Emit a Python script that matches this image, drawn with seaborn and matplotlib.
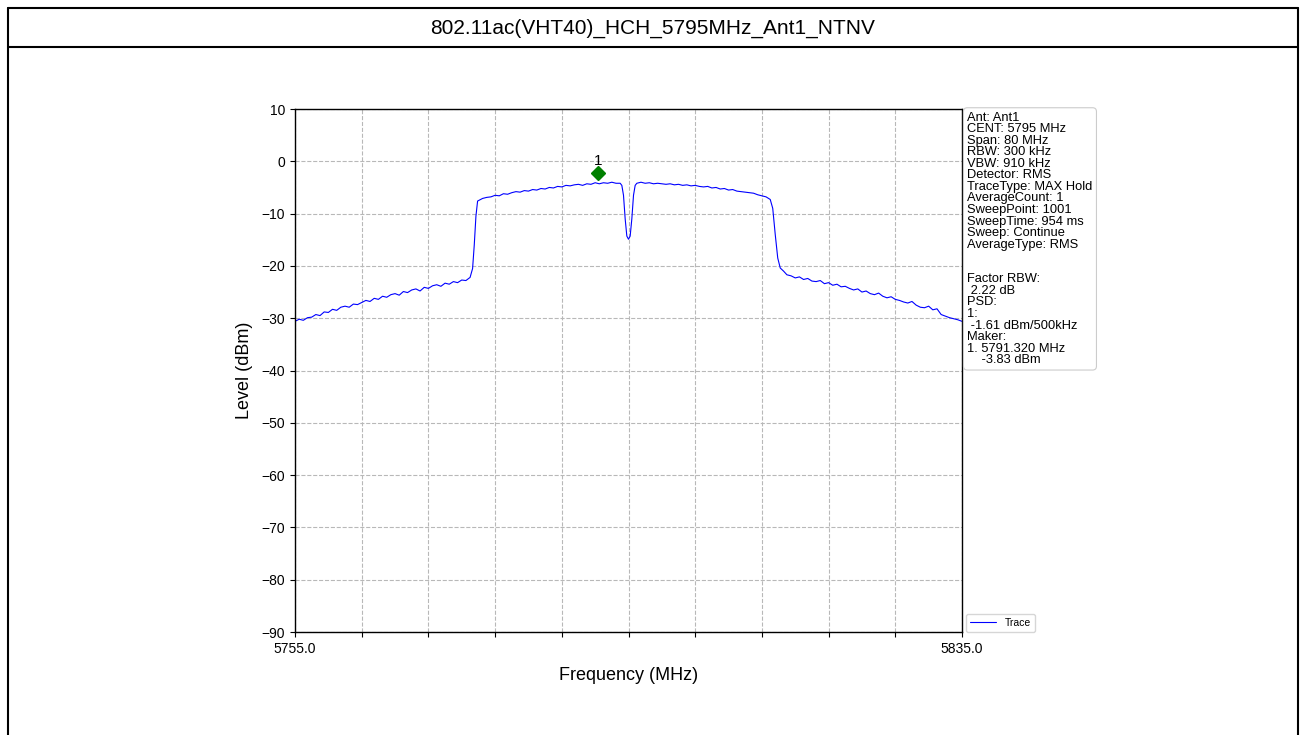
import matplotlib
matplotlib.use("Agg")
import matplotlib.pyplot as plt
import numpy as np
import pandas as pd
import seaborn as sns
from matplotlib.lines import Line2D

# trace values (MHz, dBm)
freq_left = [5755.0, 5755.5, 5756.0, 5756.5, 5757.0, 5757.5, 5758.0, 5758.5, 5759.0, 5759.5,
             5760.0, 5760.5, 5761.0, 5761.5, 5762.0, 5762.5, 5763.0, 5763.5, 5764.0, 5764.5,
             5765.0, 5765.5, 5766.0, 5766.5, 5767.0, 5767.5, 5768.0, 5768.5, 5769.0, 5769.5,
             5770.0, 5770.5, 5771.0, 5771.5, 5772.0, 5772.5, 5773.0, 5773.5, 5774.0, 5774.5,
             5775.0, 5775.5, 5776.0, 5776.3, 5776.5, 5776.7, 5776.9]
level_left = [-30.6, -30.2, -30.4, -29.9, -29.8, -29.3, -29.5, -28.8, -28.9, -28.3,
              -28.5, -27.9, -27.7, -27.9, -27.3, -27.4, -27.0, -26.6, -26.8, -26.2,
              -26.4, -25.8, -26.0, -25.5, -25.3, -25.6, -24.9, -25.1, -24.6, -24.4,
              -24.8, -24.1, -24.3, -23.8, -23.6, -23.9, -23.3, -23.5, -23.0, -23.2,
              -22.7, -22.8, -22.2, -20.5, -16.0, -10.5, -7.6]

freq_band = [5777.5, 5778.0, 5778.5, 5779.0, 5779.5, 5780.0, 5780.5, 5781.0, 5781.5, 5782.0,
             5782.5, 5783.0, 5783.5, 5784.0, 5784.5, 5785.0, 5785.5, 5786.0, 5786.5, 5787.0,
             5787.5, 5788.0, 5788.5, 5789.0, 5789.5, 5790.0, 5790.5, 5791.0, 5791.5, 5792.0,
             5792.5, 5793.0, 5793.5, 5794.0, 5794.2, 5794.4, 5794.6, 5794.8, 5795.0, 5795.2,
             5795.4, 5795.6, 5795.8, 5796.0, 5796.5, 5797.0, 5797.5, 5798.0, 5798.5, 5799.0,
             5799.5, 5800.0, 5800.5, 5801.0, 5801.5, 5802.0, 5802.5, 5803.0, 5803.5, 5804.0,
             5804.5, 5805.0, 5805.5, 5806.0, 5806.5, 5807.0, 5807.5, 5808.0, 5808.5, 5809.0,
             5809.5, 5810.0, 5810.5, 5811.0, 5811.5, 5812.0]
level_band = [-7.1, -6.9, -6.8, -6.5, -6.6, -6.2, -6.3, -6.0, -5.8, -5.9,
              -5.6, -5.7, -5.4, -5.5, -5.2, -5.3, -5.0, -5.1, -4.8, -4.9,
              -4.6, -4.7, -4.5, -4.4, -4.6, -4.3, -4.4, -4.1, -4.3, -4.1,
              -4.2, -4.0, -4.2, -4.2, -4.6, -6.5, -11.0, -14.3, -14.9, -14.3,
              -11.0, -6.5, -4.6, -4.2, -4.0, -4.2, -4.1, -4.3, -4.2, -4.3,
              -4.4, -4.3, -4.5, -4.4, -4.6, -4.5, -4.7, -4.6, -4.8, -4.9,
              -4.8, -5.1, -5.0, -5.3, -5.2, -5.5, -5.4, -5.7, -5.8, -5.9,
              -6.0, -6.1, -6.4, -6.6, -6.8, -7.3]

freq_right = [5812.3, 5812.6, 5812.9, 5813.2, 5813.6, 5814.0, 5814.5, 5815.0, 5815.5, 5816.0,
              5816.5, 5817.0, 5817.5, 5818.0, 5818.5, 5819.0, 5819.5, 5820.0, 5820.5, 5821.0,
              5821.5, 5822.0, 5822.5, 5823.0, 5823.5, 5824.0, 5824.5, 5825.0, 5825.5, 5826.0,
              5826.5, 5827.0, 5827.5, 5828.0, 5828.5, 5829.0, 5829.5, 5830.0, 5830.5, 5831.0,
              5831.5, 5832.0, 5832.5, 5833.0, 5833.5, 5834.0, 5834.5, 5835.0]
level_right = [-9.0, -14.0, -18.5, -20.4, -21.0, -21.7, -21.9, -22.3, -22.1, -22.6,
               -22.4, -22.9, -23.0, -22.8, -23.4, -23.2, -23.7, -23.5, -24.0, -23.9,
               -24.3, -24.6, -24.4, -25.0, -24.8, -25.3, -25.5, -25.2, -25.8, -26.1,
               -25.9, -26.4, -26.6, -26.9, -27.1, -26.8, -27.5, -27.9, -28.0, -27.7,
               -28.4, -28.2, -29.3, -29.6, -29.9, -30.1, -30.3, -30.6]

marker_freq = 5791.32
marker_level = -2.3

info_lines = ["Ant: Ant1", "CENT: 5795 MHz", "Span: 80 MHz", "RBW: 300 kHz", "VBW: 910 kHz",
              "Detector: RMS", "TraceType: MAX Hold", "AverageCount: 1", "SweepPoint: 1001",
              "SweepTime: 954 ms", "Sweep: Continue", "AverageType: RMS", "", "",
              "Factor RBW:", " 2.22 dB", "PSD:", "1:", " -1.61 dBm/500kHz", "Maker:",
              "1. 5791.320 MHz", "    -3.83 dBm"]

df = pd.DataFrame({"freq": freq_left + freq_band + freq_right,
                   "level": level_left + level_band + level_right})

sns.set_style("ticks")
plt.rcParams["font.family"] = ["Liberation Sans", "DejaVu Sans"]
plt.rcParams.update({"text.color": "black", "axes.labelcolor": "black",
                     "xtick.color": "black", "ytick.color": "black",
                     "axes.edgecolor": "black"})

fig = plt.figure(figsize=(13.06, 7.35), dpi=100)
ax = fig.add_axes([295 / 1306, 1 - 632 / 735, 667 / 1306, 523 / 735])

sns.lineplot(data=df, x="freq", y="level", color="blue", lw=0.8, label="Trace",
             sort=False, ax=ax)
ax.plot(marker_freq, marker_level, marker="D", color="green", ms=7, ls="none")
ax.text(marker_freq, marker_level + 1.0, "1", ha="center", va="bottom", fontsize=11)

ax.set_xlim(5755, 5835)
ax.set_ylim(-90, 10)
xt = np.linspace(5755, 5835, 11)
ax.set_xticks(xt)
ax.set_xticklabels(["5755.0"] + [""] * 9 + ["5835.0"], fontsize=10)
ax.set_yticks(np.arange(-90, 11, 10))
ax.set_yticklabels([f"{v}".replace("-", "\u2212") for v in range(-90, 11, 10)], fontsize=10)
ax.grid(True, ls="--", color="#b8b8b8", lw=0.8)
ax.set_xlabel("Frequency (MHz)", fontsize=13, labelpad=8)
ax.set_ylabel("Level (dBm)", fontsize=13, labelpad=6)
for s in ax.spines.values():
    s.set_visible(True)
    s.set_linewidth(1.0)

ax.legend(loc="lower left", bbox_to_anchor=(1.006, 0.0), fontsize=7.5, frameon=True,
          handlelength=2.5, borderaxespad=0.0)
ax.text(1.008, 0.995, "\n".join(info_lines), transform=ax.transAxes, ha="left", va="top",
        fontsize=9.3, linespacing=0.95,
        bbox=dict(boxstyle="round,pad=0.3", fc="white", ec="#cccccc", lw=0.8))

# title frame
W, H = 1306, 735
fig.add_artist(Line2D([8 / W, 1298 / W], [1 - 8 / H, 1 - 8 / H], color="black", lw=1.5))
fig.add_artist(Line2D([8 / W, 1298 / W], [1 - 47 / H, 1 - 47 / H], color="black", lw=1.5))
fig.add_artist(Line2D([8 / W, 8 / W], [0, 1 - 8 / H], color="black", lw=1.5))
fig.add_artist(Line2D([1298 / W, 1298 / W], [0, 1 - 8 / H], color="black", lw=1.5))
fig.text(0.5, 1 - 28 / H, "802.11ac(VHT40)_HCH_5795MHz_Ant1_NTNV", ha="center", va="center",
         fontsize=15)

fig.savefig("out.png", dpi=100)
